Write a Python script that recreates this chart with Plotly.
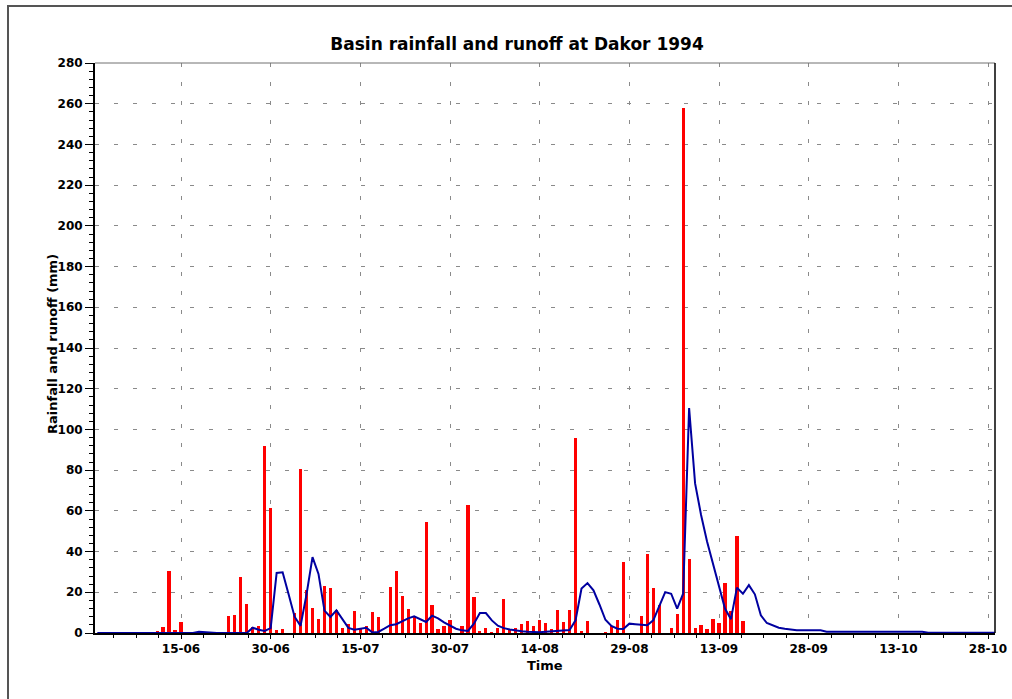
import plotly.graph_objects as go
import pandas as pd

# ---- data -------------------------------------------------------------
rain_dates = [
    "1994-06-11", "1994-06-12", "1994-06-13", "1994-06-14", "1994-06-15",
    "1994-06-23", "1994-06-24", "1994-06-25", "1994-06-26", "1994-06-27",
    "1994-06-28", "1994-06-29", "1994-06-30", "1994-07-01", "1994-07-02",
    "1994-07-04", "1994-07-05", "1994-07-06", "1994-07-07", "1994-07-08",
    "1994-07-09", "1994-07-10", "1994-07-11", "1994-07-12", "1994-07-13",
    "1994-07-14", "1994-07-15", "1994-07-16", "1994-07-17", "1994-07-18",
    "1994-07-20", "1994-07-21", "1994-07-22", "1994-07-23", "1994-07-24",
    "1994-07-25", "1994-07-26", "1994-07-27", "1994-07-28", "1994-07-29",
    "1994-07-30", "1994-08-01", "1994-08-02", "1994-08-03", "1994-08-04",
    "1994-08-05", "1994-08-06", "1994-08-07", "1994-08-08", "1994-08-09",
    "1994-08-10", "1994-08-11", "1994-08-12", "1994-08-13", "1994-08-14",
    "1994-08-15", "1994-08-16", "1994-08-17", "1994-08-18", "1994-08-19",
    "1994-08-20", "1994-08-21", "1994-08-22", "1994-08-25", "1994-08-26",
    "1994-08-27", "1994-08-28", "1994-08-31", "1994-09-01", "1994-09-02",
    "1994-09-03", "1994-09-05", "1994-09-06", "1994-09-07", "1994-09-08",
    "1994-09-09", "1994-09-10", "1994-09-11", "1994-09-12", "1994-09-13",
    "1994-09-14", "1994-09-15", "1994-09-16", "1994-09-17",
]
rain_mm = [
    1.0, 3.0, 30.5, 1.5, 5.2,
    8.2, 8.7, 27.5, 14.1, 2.8,
    3.3, 92.0, 61.5, 1.3, 1.8,
    10.0, 80.5, 21.0, 12.4, 6.7,
    23.0, 22.0, 11.1, 2.3, 4.2,
    10.8, 1.8, 3.3, 10.1, 7.7,
    22.6, 30.4, 18.4, 12.0, 8.5,
    4.8, 54.6, 14.0, 1.8, 3.3,
    6.2, 3.3, 63.0, 17.8, 0.9,
    2.7, 0.3, 2.4, 16.9, 1.5,
    2.7, 4.3, 5.8, 3.3, 6.2,
    4.8, 1.8, 11.1, 5.2, 11.1,
    96.0, 0.9, 5.7, 0.3, 3.4,
    6.6, 34.8, 8.2, 38.6, 22.2,
    14.0, 2.3, 9.5, 258.0, 36.2,
    2.7, 3.7, 1.9, 6.8, 4.7,
    24.6, 10.6, 47.8, 5.7,
]

runoff_start = "1994-06-01"
runoff_mm = [
    # 1-17 June
    0, 0, 0, 0, 0, 0, 0, 0, 0, 0, 0, 0, 0, 0, 0, 0, 0,
    # 18-26 June
    0.6, 0.4, 0, 0, 0, 0, 0, 0, 0,
    # 27 June onwards
    2.6, 1.6, 1.0, 2.4, 29.5, 29.8, 19, 8, 3.5, 19,
    37.3, 29, 11, 7.9, 11.1, 6.5, 2.5, 1.6, 2.1, 2.6,
    0.3, 0.5, 2.1, 3.8, 4.3, 5.8, 7.2, 8.2, 6.8, 5.4,
    8.5, 7.2, 5.2, 3.6, 2.1, 1.3, 1.0, 4.6, 9.8, 9.8,
    6.2, 3.6, 2.4, 1.7, 1.2, 0.9, 0.6, 0.4, 0.4, 0.6,
    0.8, 0.9, 1.0, 1.5, 6.2, 21.8, 24.5, 21, 14, 6.5,
    3.5, 2.1, 2.0, 4.6, 4.3, 4.0, 3.8, 6.2, 13.5, 20.1,
    19.3, 12, 19.3, 110.5, 73.5, 58, 45, 34, 22, 12,
    6.8, 22.3, 19.3, 23.5, 19, 8.7, 4.9, 3.6, 2.6, 2.1, 1.7,
    1.3, 1.3, 1.3, 1.3, 1.3,
    0.6, 0.6, 0.6, 0.6, 0.6, 0.6, 0.6, 0.6, 0.6, 0.6, 0.6, 0.6, 0.6, 0.6, 0.6, 0.6, 0.6,
    0.15, 0.15, 0.15, 0.15, 0.15, 0.15, 0.15, 0.15, 0.15, 0.15, 0.15, 0.15, 0.15,
]
runoff_dates = pd.date_range(runoff_start, periods=len(runoff_mm), freq="D")

x_range = ["1994-05-31 14:44", "1994-10-29 04:05"]
y_range = [0, 280]

title_text = "Basin rainfall and runoff at Dakor 1994"
x_title = "Time"
y_title = "Rainfall and runoff (mm)"

# ---- figure -----------------------------------------------------------
FONT = "DejaVu Sans"
DAY_MS = 86400000
W, H = 1012, 699
L, R, T, B = 95, 17, 63, 66
PW, PH = W - L - R, H - T - B


def px_x(fx):
    return (fx - L) / PW


def px_y(fy):
    return (H - B - fy) / PH


fig = go.Figure()
fig.add_trace(go.Bar(
    x=rain_dates, y=rain_mm, width=0.53 * DAY_MS,
    marker=dict(color="#FF0000", line=dict(width=0)),
    name="Rainfall", showlegend=False,
))
fig.add_trace(go.Scatter(
    x=runoff_dates, y=runoff_mm, mode="lines",
    line=dict(color="#0000A0", width=2),
    name="Runoff", showlegend=False,
))

fig.update_layout(
    width=W, height=H,
    margin=dict(l=L, r=R, t=T, b=B, pad=0, autoexpand=False),
    paper_bgcolor="white", plot_bgcolor="white",
    bargap=0,
    title=dict(
        text=title_text, x=517 / W, xref="container", xanchor="center",
        y=1 - 44 / H, yref="container", yanchor="middle",
        font=dict(family=FONT, size=17, color="black", weight="bold"),
    ),
    font=dict(family=FONT, color="black"),
)

fig.update_xaxes(
    type="date", range=x_range, automargin=False,
    tick0="1994-06-15", dtick=15 * DAY_MS, tickformat="%d-%m",
    ticks="outside", ticklen=4, tickcolor="black",
    tickfont=dict(family=FONT, size=12, color="black", weight="bold"),
    showline=True, linecolor="black", linewidth=2,
    showgrid=True, gridcolor="#8a8a8a", gridwidth=1, griddash="4px,15px",
    minor=dict(tick0="1994-06-15", dtick=3.75 * DAY_MS, ticks="outside",
               ticklen=3, tickcolor="black", showgrid=False),
    zeroline=False,
)
fig.update_yaxes(
    range=y_range, dtick=20, tick0=0, automargin=False,
    ticks="outside", ticklen=8, tickcolor="black",
    tickfont=dict(family=FONT, size=12, color="black", weight="bold"),
    showline=True, linecolor="black", linewidth=2,
    showgrid=True, gridcolor="#8a8a8a", gridwidth=1, griddash="4px,15px",
    minor=dict(dtick=4, ticks="outside", ticklen=4, tickcolor="black", showgrid=False),
    zeroline=False,
)

# axis titles
fig.add_annotation(
    text=x_title, xref="paper", yref="paper", x=0.5, y=px_y(665),
    xanchor="center", yanchor="middle", showarrow=False,
    font=dict(family=FONT, size=13, color="black", weight="bold"),
)
fig.add_annotation(
    text=y_title, xref="paper", yref="paper", x=px_x(52), y=px_y(344),
    xanchor="center", yanchor="middle", textangle=-90, showarrow=False,
    font=dict(family=FONT, size=13, color="black", weight="bold"),
)

# plot frame top/right and outer border
fig.add_shape(type="line", xref="paper", yref="paper", x0=0, x1=1, y0=1, y1=1,
              line=dict(color="#707070", width=1))
fig.add_shape(type="line", xref="paper", yref="paper", x0=1, x1=1, y0=0, y1=1,
              line=dict(color="black", width=1.5))
fig.add_shape(type="rect", xref="paper", yref="paper",
              x0=px_x(8), x1=px_x(W + 20),
              y0=px_y(H + 20), y1=px_y(6),
              line=dict(color="#555555", width=2), layer="below")

# remove the default 8px body margin so the figure fills the window exactly
post = ("document.body.style.margin='0';"
        "document.body.style.padding='0';"
        "document.body.style.overflow='hidden';")

fig.write_html("out.html", post_script=post,
               config={"displayModeBar": False})
